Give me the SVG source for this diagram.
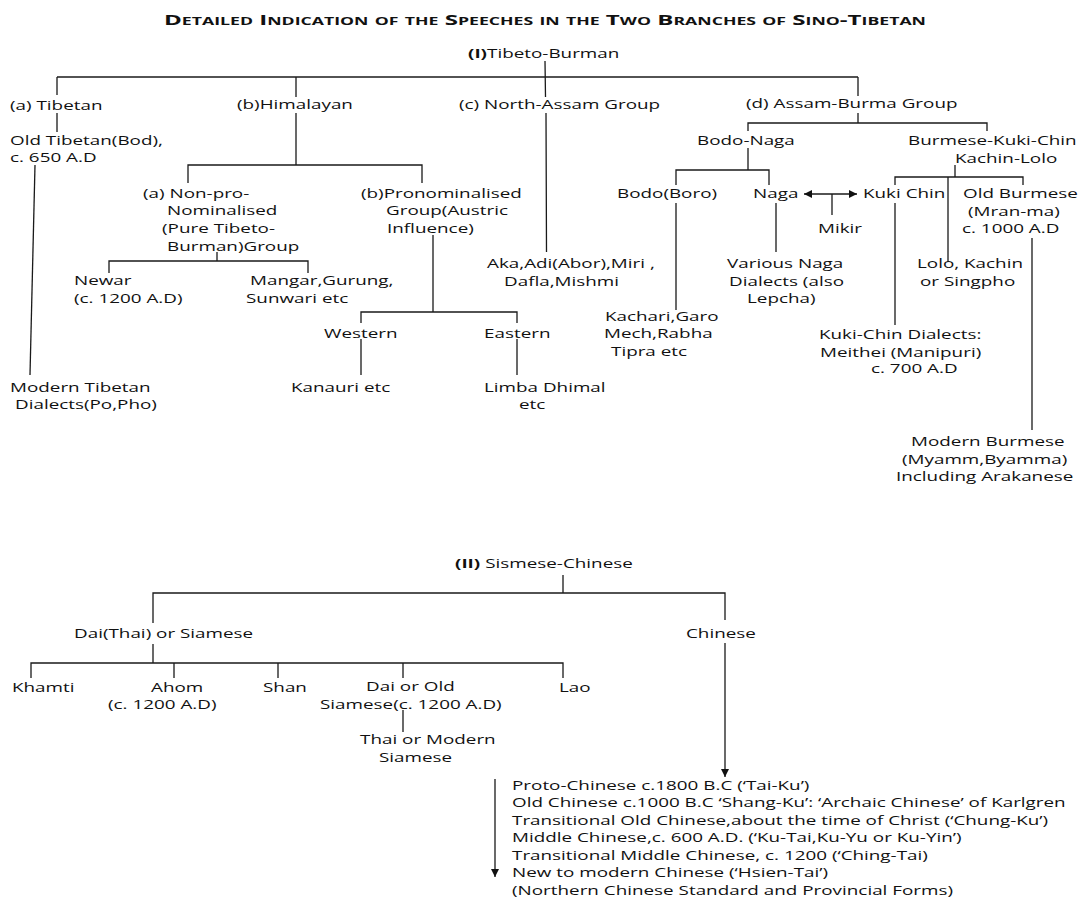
<svg xmlns="http://www.w3.org/2000/svg" width="1083" height="906" viewBox="0 0 1083 906">
<defs>
<style>
.t{font-family:"Open Sans","Liberation Sans",sans-serif;font-size:13px;fill:#111}
.b{font-weight:bold}
.title{font-family:"Open Sans","Liberation Sans",sans-serif;font-size:15px;font-weight:bold;font-variant:small-caps;fill:#111}
.c{stroke:#1a1a1a;stroke-width:1.3;fill:none}
</style>
<marker id="ah" viewBox="0 0 10 10" refX="10" refY="5" markerWidth="8" markerHeight="8" markerUnits="userSpaceOnUse" orient="auto-start-reverse">
<path d="M0,0 L10,5 L0,10 Z" fill="#111"/>
</marker>
</defs>
<rect width="1083" height="906" fill="#fff"/>
<text class="title" x="164" y="25" textLength="762" lengthAdjust="spacingAndGlyphs">Detailed Indication of the Speeches in the Two Branches of Sino-Tibetan</text>

<g id="connectors" class="c">
<path d="M545,61 L545.5,97 M546,113 L546.5,252"/>
<path d="M57,77 H858"/>
<path d="M57,77 V95 M57,113 V132"/>
<path d="M35,165 L30,375"/>
<path d="M296,77 V97 M296,113 V165 M188,183 V165 H422 V183"/>
<path d="M217,252 V261 M109,273 V261 H308 V273"/>
<path d="M433,235 V312 M361,323 V312 H517 V323 M361,339 V375 M517,339 V375"/>
<path d="M858,77 V96 M858,113 V123 M748,131 V123 H987 V131"/>
<path d="M748,148 V170 M676,185 V170 H769 V185"/>
<path d="M676,203 V310 M776,203 V252"/>
<path d="M804,194 H857" marker-start="url(#ah)" marker-end="url(#ah)"/>
<path d="M832,194 V215"/>
<path d="M955,165 V177 M895,185 V177 H1023 V185 M948,177 V262"/>
<path d="M895,203 V325"/>
<path d="M1032,238 V430"/>
<path d="M563,575 V593 M153,623 V593 H725 V620"/>
<path d="M725,643 V777" marker-end="url(#ah)"/>
<path d="M153,644 V663 M31,678 V663 H563 V678 M174,663 V678 M278,663 V678 M403,663 V678"/>
<path d="M403,710 V732"/>
<path d="M495,779 V877" marker-end="url(#ah)"/>
</g>

<g id="tibeto-burman"><text class="t" transform="translate(468,57.5) scale(1.45,1)"><tspan class="b">(I)</tspan>Tibeto-Burman</text></g>
<g id="tibetan"><text class="t" transform="translate(10,109.5) scale(1.45,1)">(a) Tibetan</text></g>
<g id="himalayan"><text class="t" transform="translate(237,108.5) scale(1.45,1)">(b)Himalayan</text></g>
<g id="north-assam"><text class="t" transform="translate(459,108.5) scale(1.45,1)">(c) North-Assam Group</text></g>
<g id="assam-burma"><text class="t" transform="translate(746,107.5) scale(1.45,1)">(d) Assam-Burma Group</text></g>
<g id="old-tibetan">
<text class="t" transform="translate(10,144.5) scale(1.45,1)">Old Tibetan(Bod),</text>
<text class="t" transform="translate(10,161.5) scale(1.45,1)">c. 650 A.D</text>
</g>
<g id="modern-tibetan">
<text class="t" transform="translate(10,391.5) scale(1.45,1)">Modern Tibetan</text>
<text class="t" transform="translate(15,408.5) scale(1.45,1)">Dialects(Po,Pho)</text>
</g>
<g id="non-pronominalised">
<text class="t" transform="translate(143,197.5) scale(1.45,1)">(a) Non-pro-</text>
<text class="t" transform="translate(167,214.5) scale(1.45,1)">Nominalised</text>
<text class="t" transform="translate(162,232.5) scale(1.45,1)">(Pure Tibeto-</text>
<text class="t" transform="translate(167,250.5) scale(1.45,1)">Burman)Group</text>
</g>
<g id="newar">
<text class="t" transform="translate(74,284.5) scale(1.45,1)">Newar</text>
<text class="t" transform="translate(74,302.5) scale(1.45,1)">(c. 1200 A.D)</text>
</g>
<g id="mangar">
<text class="t" transform="translate(250,284.5) scale(1.45,1)">Mangar,Gurung,</text>
<text class="t" transform="translate(246,302.5) scale(1.45,1)">Sunwari etc</text>
</g>
<g id="pronominalised">
<text class="t" transform="translate(361,197.5) scale(1.45,1)">(b)Pronominalised</text>
<text class="t" transform="translate(386,214.5) scale(1.45,1)">Group(Austric</text>
<text class="t" transform="translate(387,232.5) scale(1.45,1)">Influence)</text>
</g>
<g id="western"><text class="t" transform="translate(324,337.5) scale(1.45,1)">Western</text></g>
<g id="eastern"><text class="t" transform="translate(484,337.5) scale(1.45,1)">Eastern</text></g>
<g id="kanauri"><text class="t" transform="translate(291,391.5) scale(1.45,1)">Kanauri etc</text></g>
<g id="limba">
<text class="t" transform="translate(484,391.5) scale(1.45,1)">Limba Dhimal</text>
<text class="t" transform="translate(519,408.5) scale(1.45,1)">etc</text>
</g>
<g id="aka">
<text class="t" transform="translate(487,267.5) scale(1.45,1)">Aka,Adi(Abor),Miri ,</text>
<text class="t" transform="translate(504,285.5) scale(1.45,1)">Dafla,Mishmi</text>
</g>
<g id="bodo-naga"><text class="t" transform="translate(697,144.5) scale(1.45,1)">Bodo-Naga</text></g>
<g id="burmese-kuki-chin">
<text class="t" transform="translate(908,144.5) scale(1.45,1)">Burmese-Kuki-Chin</text>
<text class="t" transform="translate(955,162.5) scale(1.45,1)">Kachin-Lolo</text>
</g>
<g id="bodo"><text class="t" transform="translate(617,197.5) scale(1.45,1)">Bodo(Boro)</text></g>
<g id="naga"><text class="t" transform="translate(753,197.5) scale(1.45,1)">Naga</text></g>
<g id="mikir"><text class="t" transform="translate(818,232.5) scale(1.45,1)">Mikir</text></g>
<g id="kuki-chin"><text class="t" transform="translate(863,197.5) scale(1.45,1)">Kuki Chin</text></g>
<g id="old-burmese">
<text class="t" transform="translate(963,197.5) scale(1.45,1)">Old Burmese</text>
<text class="t" transform="translate(968,215.5) scale(1.45,1)">(Mran-ma)</text>
<text class="t" transform="translate(962,232.5) scale(1.45,1)">c. 1000 A.D</text>
</g>
<g id="various-naga">
<text class="t" transform="translate(727,267.5) scale(1.45,1)">Various Naga</text>
<text class="t" transform="translate(729,285.5) scale(1.45,1)">Dialects (also</text>
<text class="t" transform="translate(747,302.5) scale(1.45,1)">Lepcha)</text>
</g>
<g id="lolo">
<text class="t" transform="translate(917,267.5) scale(1.45,1)">Lolo, Kachin</text>
<text class="t" transform="translate(920,285.5) scale(1.45,1)">or Singpho</text>
</g>
<g id="kachari">
<text class="t" transform="translate(605,320.5) scale(1.45,1)">Kachari,Garo</text>
<text class="t" transform="translate(604,337.5) scale(1.45,1)">Mech,Rabha</text>
<text class="t" transform="translate(611,355.5) scale(1.45,1)">Tipra etc</text>
</g>
<g id="kuki-chin-dialects">
<text class="t" transform="translate(819,338.5) scale(1.45,1)">Kuki-Chin Dialects:</text>
<text class="t" transform="translate(820,356.5) scale(1.45,1)">Meithei (Manipuri)</text>
<text class="t" transform="translate(871,372.5) scale(1.45,1)">c. 700 A.D</text>
</g>
<g id="modern-burmese">
<text class="t" transform="translate(911,445.5) scale(1.45,1)">Modern Burmese</text>
<text class="t" transform="translate(902,463.5) scale(1.45,1)">(Myamm,Byamma)</text>
<text class="t" transform="translate(896,480.5) scale(1.45,1)">Including Arakanese</text>
</g>

<g id="sismese-chinese"><text class="t" transform="translate(455,567.5) scale(1.45,1)"><tspan class="b">(II)</tspan> Sismese-Chinese</text></g>
<g id="dai-thai"><text class="t" transform="translate(74,637.5) scale(1.45,1)">Dai(Thai) or Siamese</text></g>
<g id="chinese"><text class="t" transform="translate(686,637.5) scale(1.45,1)">Chinese</text></g>
<g id="khamti"><text class="t" transform="translate(12,691.5) scale(1.45,1)">Khamti</text></g>
<g id="ahom">
<text class="t" transform="translate(151,691.5) scale(1.45,1)">Ahom</text>
<text class="t" transform="translate(108,708.5) scale(1.45,1)">(c. 1200 A.D)</text>
</g>
<g id="shan"><text class="t" transform="translate(263,691.5) scale(1.45,1)">Shan</text></g>
<g id="dai-old">
<text class="t" transform="translate(366,690.5) scale(1.45,1)">Dai or Old</text>
<text class="t" transform="translate(320,708.5) scale(1.45,1)">Siamese(c. 1200 A.D)</text>
</g>
<g id="lao"><text class="t" transform="translate(559,691.5) scale(1.45,1)">Lao</text></g>
<g id="thai-modern">
<text class="t" transform="translate(360,743.5) scale(1.45,1)">Thai or Modern</text>
<text class="t" transform="translate(379,761.5) scale(1.45,1)">Siamese</text>
</g>
<g id="chinese-stages">
<text class="t" transform="translate(512,789.5) scale(1.45,1)">Proto-Chinese c.1800 B.C (‘Tai-Ku’)</text>
<text class="t" transform="translate(512,806.5) scale(1.45,1)">Old Chinese c.1000 B.C ‘Shang-Ku’: ‘Archaic Chinese’ of Karlgren</text>
<text class="t" transform="translate(512,824.5) scale(1.45,1)">Transitional Old Chinese,about the time of Christ (‘Chung-Ku’)</text>
<text class="t" transform="translate(512,841.5) scale(1.45,1)">Middle Chinese,c. 600 A.D. (‘Ku-Tai,Ku-Yu or Ku-Yin’)</text>
<text class="t" transform="translate(512,859.5) scale(1.45,1)">Transitional Middle Chinese, c. 1200 (‘Ching-Tai)</text>
<text class="t" transform="translate(512,876.5) scale(1.45,1)">New to modern Chinese (‘Hsien-Tai’)</text>
<text class="t" transform="translate(512,894.5) scale(1.45,1)">(Northern Chinese Standard and Provincial Forms)</text>
</g>
</svg>
